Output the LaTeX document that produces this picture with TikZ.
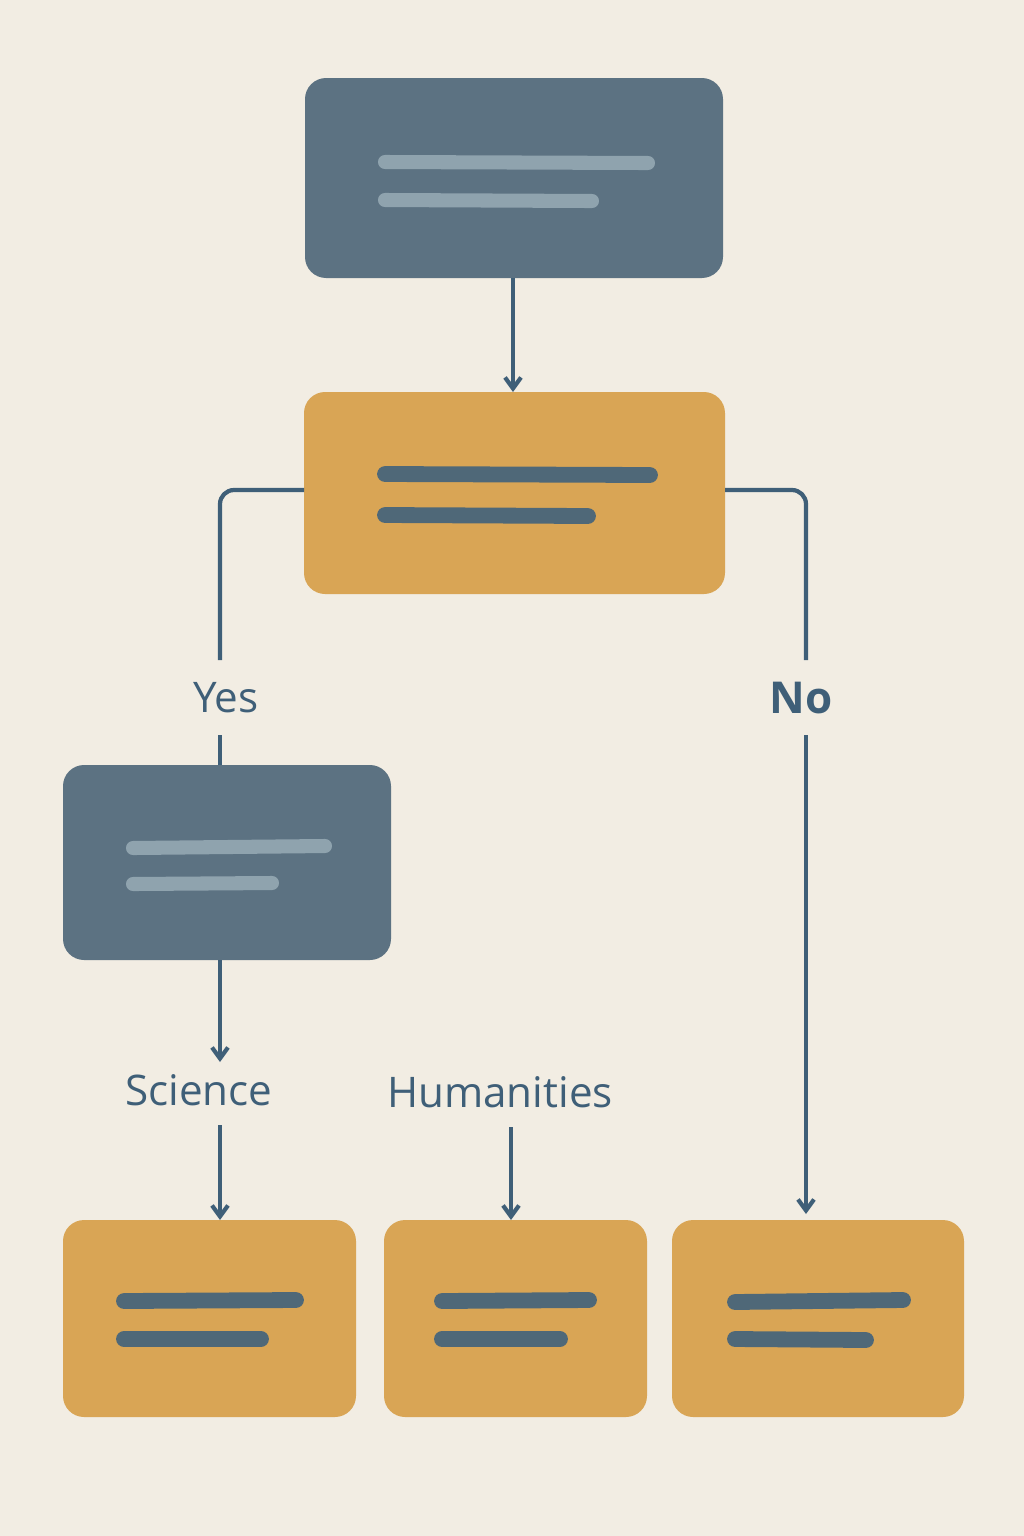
\documentclass[tikz,border=0pt]{standalone}
\usepackage{fontspec}
\setmainfont{Open Sans}
\usetikzlibrary{positioning,arrows.meta}
\definecolor{bg}{HTML}{F2EDE3}
\definecolor{slate}{HTML}{5C7282}
\definecolor{ochre}{HTML}{D9A555}
\definecolor{barlight}{HTML}{8FA3AE}
\definecolor{bardark}{HTML}{4F6878}
\definecolor{ink}{HTML}{3F5F78}
\tikzset{>={Straight Barb[width=3.2mm,length=2.2mm]}}
\tikzset{
  dbox/.style={fill=slate, rounded corners=12pt, draw=none},
  obox/.style={fill=ochre, rounded corners=12pt, draw=none},
  lbar/.style={draw=barlight, line width=8pt, line cap=round},
  dbar/.style={draw=bardark, line width=9pt, line cap=round},
  conn/.style={draw=ink, line width=2.4pt},
  lbl/.style={text=ink, font=\fontsize{24}{28}\selectfont}
}
\begin{document}
\begin{tikzpicture}[x=0.02cm,y=-0.02cm]
  \fill[bg] (0,0) rectangle (1024,1536);
  \useasboundingbox (0,0) rectangle (1024,1536);

  % boxes
  \fill[dbox] (305,78) rectangle (723,278);
  \fill[obox] (304,392) rectangle (725,594);
  \fill[dbox] (63,765) rectangle (391,960);
  \fill[obox] (63,1220) rectangle (356,1417);
  \fill[obox] (384,1220) rectangle (647,1417);
  \fill[obox] (672,1220) rectangle (964,1417);

  % bars
  \draw[lbar] (385,162) -- (648,163);
  \draw[lbar] (385,200) -- (592,201);
  \draw[dbar] (385,474) -- (650,475);
  \draw[dbar] (385,515) -- (588,516);
  \draw[lbar] (133,848) -- (325,846);
  \draw[lbar] (133,884) -- (272,883);
  \draw[dbar] (124,1301) -- (296,1300);
  \draw[dbar] (124,1339) -- (261,1339);
  \draw[dbar] (442,1301) -- (589,1300);
  \draw[dbar] (442,1339) -- (560,1339);
  \draw[dbar] (735,1302) -- (903,1300);
  \draw[dbar] (735,1339) -- (866,1340);

  % named anchors
  \coordinate (top) at (513,278);
  \coordinate (mid) at (513,392);
  \coordinate (midl) at (304,490);
  \coordinate (midr) at (725,490);
  \coordinate (lbox) at (220,765);
  \coordinate (lboxb) at (220,960);
  \coordinate (b1) at (220,1220);
  \coordinate (b2) at (511,1220);
  \coordinate (b3) at (806,1214);

  % labels
  \node[lbl] (yes) at (226,698) {Yes};
  \node[lbl, font=\fontsize{25}{28}\selectfont\bfseries] (no) at (801,698) {No};
  \node[lbl] (sci) at (199,1090) {Science};
  \node[lbl] (hum) at (500,1092) {Humanities};

  % connectors
  \draw[conn,->] (top) -- (mid);
  \draw[conn, rounded corners=8pt] (midl) -- (220,490) -- (220,660);
  \draw[conn] (220,735) -- (lbox);
  \draw[conn, rounded corners=8pt] (midr) -- (806,490) -- (806,660);
  \draw[conn,->] (806,735) -- (b3);
  \draw[conn,->] (lboxb) -- (220,1062);
  \draw[conn,->] (220,1125) -- (b1);
  \draw[conn,->] (511,1127) -- (b2);
\end{tikzpicture}
\end{document}
